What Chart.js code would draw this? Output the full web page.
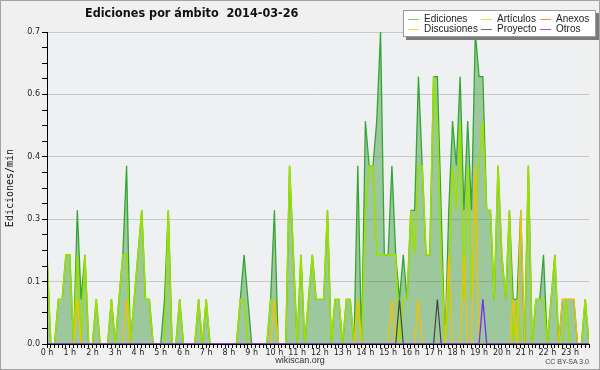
<!DOCTYPE html>
<html>
<head>
<meta charset="utf-8">
<script src="https://cdn.jsdelivr.net/npm/chart.js@4.4.1/dist/chart.umd.min.js"></script>
<style>
    body { margin: 0; background: #f0f0f0; }
    #wrap { position: relative; width: 600px; height: 370px; background: #f0f0f0; overflow: hidden; }
    #chart { position: absolute; left: 0; top: 0; }
    #frame { position: absolute; left: 0; top: 0; width: 600px; height: 370px; box-sizing: border-box; border: 1px solid #a4a4a4; pointer-events: none; }
    #title { position: absolute; left: 85px; top: 5px; font-family: "DejaVu Sans Condensed", "DejaVu Sans"; font-weight: bold; font-size: 12.5px; font-stretch: condensed; color: #111; white-space: pre; }
    #legend { position: absolute; left: 403px; top: 10px; width: 191px; height: 25px; background: #fff; border: 1px solid #9a9a9a; box-shadow: 3px 3px 0 #7a7a7a; font: 10px "Liberation Sans"; color: #222; }
    #legend .item { position: absolute; white-space: nowrap; line-height: 10px; }
    #legend .swatch { position: absolute; top: 5px; width: 11px; height: 0; border-top: 1px solid; }
    #legend .name { position: absolute; left: 16px; top: 0; }
    #site { position: absolute; left: 250px; width: 100px; top: 355px; text-align: center; font: 9px "Liberation Sans"; color: #333; }
    #licence { position: absolute; right: 11px; top: 358px; font: 7px "Liberation Sans"; color: #444; }
</style>
</head>
<body>
<div id="wrap">
    <canvas id="chart" width="600" height="370"></canvas>
    <div id="title">Ediciones por ámbito  2014-03-26</div>
    <div id="legend"></div>
    <div id="site">wikiscan.org</div>
    <div id="licence">CC BY-SA 3.0</div>
    <div id="frame"></div>
</div>
<script>
// Labels of the axes
const hourLabels = ['0 h', '1 h', '2 h', '3 h', '4 h', '5 h', '6 h', '7 h', '8 h', '9 h', '10 h', '11 h',
    '12 h', '13 h', '14 h', '15 h', '16 h', '17 h', '18 h', '19 h', '20 h', '21 h', '22 h', '23 h'];
const yLabels = ['0.0', '0.1', '0.3', '0.4', '0.6', '0.7'];

// Edits per minute, one value per 10 minutes (one row = 2 hours)
const ediciones = [
    0.2, 0, 0, 0.1, 0.1, 0.2, 0.2, 0, 0.3, 0.1, 0.2, 0,
    0, 0.1, 0, 0, 0, 0.1, 0, 0.1, 0.2, 0.4, 0, 0.1,
    0.2, 0.3, 0.1, 0.1, 0, 0, 0, 0.1, 0.3, 0, 0, 0.1,
    0, 0, 0, 0, 0.1, 0, 0.1, 0, 0, 0, 0, 0,
    0, 0, 0, 0.1, 0.2, 0.1, 0, 0, 0, 0, 0, 0.1,
    0.3, 0, 0, 0, 0.4, 0.2, 0, 0.2, 0, 0.1, 0.2, 0.1,
    0.1, 0.1, 0.3, 0, 0.1, 0.1, 0, 0.1, 0.1, 0, 0.4, 0,
    0.5, 0.4, 0.4, 0.5, 0.7, 0.2, 0.2, 0.4, 0.2, 0.1, 0.2, 0.1,
    0.3, 0.3, 0.6, 0.4, 0.2, 0.2, 0.6, 0.6, 0.3, 0, 0.3, 0.5,
    0.4, 0.6, 0.3, 0.5, 0.3, 0.7, 0.6, 0.6, 0.3, 0.3, 0.1, 0.4,
    0.2, 0.1, 0.3, 0.1, 0.1, 0.3, 0, 0.4, 0, 0.1, 0.1, 0.2,
    0, 0.1, 0.2, 0, 0.1, 0.1, 0.1, 0.1, 0, 0, 0.1, 0
];
const articulos = [
    0.2, 0, 0, 0.1, 0.1, 0.2, 0.2, 0, 0.2, 0, 0.2, 0,
    0, 0.1, 0, 0, 0, 0.1, 0, 0.1, 0.2, 0.2, 0, 0.1,
    0.2, 0.3, 0.1, 0.1, 0, 0, 0, 0, 0.3, 0, 0, 0.1,
    0, 0, 0, 0, 0.1, 0, 0.1, 0, 0, 0, 0, 0,
    0, 0, 0, 0.1, 0.1, 0, 0, 0, 0, 0, 0, 0.1,
    0.1, 0, 0, 0, 0.4, 0.2, 0, 0.2, 0, 0.1, 0.2, 0.1,
    0.1, 0.1, 0.3, 0, 0.1, 0.1, 0, 0.1, 0.1, 0, 0.1, 0,
    0.3, 0.4, 0.4, 0.2, 0.2, 0.2, 0.2, 0.2, 0.2, 0, 0.1, 0.1,
    0.3, 0.2, 0.4, 0.4, 0.2, 0.2, 0.6, 0.5, 0.2, 0, 0.1, 0.4,
    0.3, 0.5, 0.1, 0.4, 0.1, 0.3, 0.4, 0.5, 0.3, 0.3, 0.1, 0.4,
    0.2, 0.1, 0.3, 0, 0.1, 0, 0, 0.4, 0, 0.1, 0.1, 0.1,
    0, 0.1, 0.2, 0, 0, 0.1, 0, 0, 0, 0, 0.1, 0
];
const anexos = [
    0, 0, 0, 0, 0, 0, 0, 0, 0, 0, 0, 0,
    0, 0, 0, 0, 0, 0, 0, 0, 0, 0, 0, 0,
    0, 0, 0, 0, 0, 0, 0, 0, 0, 0, 0, 0,
    0, 0, 0, 0, 0, 0, 0, 0, 0, 0, 0, 0,
    0, 0, 0, 0, 0, 0, 0, 0, 0, 0, 0, 0,
    0, 0, 0, 0, 0, 0, 0, 0, 0, 0, 0, 0,
    0, 0, 0, 0, 0, 0, 0, 0, 0, 0, 0, 0,
    0, 0, 0, 0, 0, 0, 0, 0, 0, 0, 0, 0,
    0, 0, 0, 0, 0, 0, 0, 0, 0, 0, 0, 0,
    0, 0, 0, 0, 0, 0, 0, 0, 0, 0, 0, 0,
    0, 0, 0, 0, 0, 0, 0, 0, 0, 0, 0, 0,
    0, 0, 0, 0, 0, 0, 0, 0, 0, 0, 0, 0
];
const discusiones = [
    0, 0, 0, 0, 0, 0, 0, 0, 0.1, 0, 0, 0,
    0, 0, 0, 0, 0, 0, 0, 0, 0, 0.1, 0, 0,
    0, 0, 0, 0, 0, 0, 0, 0, 0, 0, 0, 0,
    0, 0, 0, 0, 0, 0, 0, 0, 0, 0, 0, 0,
    0, 0, 0, 0, 0, 0, 0, 0, 0, 0, 0, 0,
    0.1, 0, 0, 0, 0, 0, 0, 0, 0, 0, 0, 0,
    0, 0, 0, 0, 0, 0, 0, 0, 0, 0, 0.1, 0,
    0, 0, 0, 0, 0, 0, 0, 0.1, 0, 0, 0, 0,
    0, 0, 0.1, 0, 0, 0, 0, 0, 0, 0, 0.2, 0,
    0, 0, 0.2, 0, 0, 0.4, 0, 0, 0, 0, 0, 0,
    0, 0, 0, 0.1, 0, 0.3, 0, 0, 0, 0, 0, 0,
    0, 0, 0, 0, 0.1, 0.1, 0.1, 0.1, 0, 0, 0, 0
];
const proyecto = [
    0, 0, 0, 0, 0, 0, 0, 0, 0, 0, 0, 0,
    0, 0, 0, 0, 0, 0, 0, 0, 0, 0, 0, 0,
    0, 0, 0, 0, 0, 0, 0, 0, 0, 0, 0, 0,
    0, 0, 0, 0, 0, 0, 0, 0, 0, 0, 0, 0,
    0, 0, 0, 0, 0, 0, 0, 0, 0, 0, 0, 0,
    0, 0, 0, 0, 0, 0, 0, 0, 0, 0, 0, 0,
    0, 0, 0, 0, 0, 0, 0, 0, 0, 0, 0, 0,
    0, 0, 0, 0, 0, 0, 0, 0, 0, 0.1, 0, 0,
    0, 0, 0, 0, 0, 0, 0, 0.1, 0, 0, 0, 0,
    0, 0, 0, 0, 0, 0, 0, 0, 0, 0, 0, 0,
    0, 0, 0, 0, 0, 0, 0, 0, 0, 0, 0, 0,
    0, 0, 0, 0, 0, 0, 0, 0, 0, 0, 0, 0
];
const otros = [
    0, 0, 0, 0, 0, 0, 0, 0, 0, 0, 0, 0,
    0, 0, 0, 0, 0, 0, 0, 0, 0, 0, 0, 0,
    0, 0, 0, 0, 0, 0, 0, 0, 0, 0, 0, 0,
    0, 0, 0, 0, 0, 0, 0, 0, 0, 0, 0, 0,
    0, 0, 0, 0, 0, 0, 0, 0, 0, 0, 0, 0,
    0, 0, 0, 0, 0, 0, 0, 0, 0, 0, 0, 0,
    0, 0, 0, 0, 0, 0, 0, 0, 0, 0, 0, 0,
    0, 0, 0, 0, 0, 0, 0, 0, 0, 0, 0, 0,
    0, 0, 0, 0, 0, 0, 0, 0, 0, 0, 0, 0,
    0, 0, 0, 0, 0, 0, 0, 0.1, 0, 0, 0, 0,
    0, 0, 0, 0, 0, 0, 0, 0, 0, 0, 0, 0,
    0, 0, 0, 0, 0, 0, 0, 0, 0, 0, 0, 0
];

// 10 minute slots of the day
const slots = [];
for (let h = 0; h < 24; h++) {
    for (let m = 0; m < 60; m += 10) {
        slots.push(String(h).padStart(2, '0') + ':' + String(m).padStart(2, '0'));
    }
}

const legendItems = [
    { name: 'Ediciones', color: '#6fcf6f', col: 0, row: 0 },
    { name: 'Artículos', color: '#c6ee3c', col: 1, row: 0 },
    { name: 'Anexos', color: '#ff8a4c', col: 2, row: 0 },
    { name: 'Discusiones', color: '#ffd23a', col: 0, row: 1 },
    { name: 'Proyecto', color: '#6a6a6a', col: 1, row: 1 },
    { name: 'Otros', color: '#9a4cff', col: 2, row: 1 }
];
const legendCols = [4, 77, 136];

function buildLegend() {
    const legend = document.getElementById('legend');
    legendItems.forEach(item => {
        const el = document.createElement('div');
        el.className = 'item';
        el.style.left = legendCols[item.col] + 'px';
        el.style.top = (3 + item.row * 10) + 'px';
        el.innerHTML = '<span class="swatch" style="border-color:' + item.color + '"></span><span class="name"></span>';
        el.querySelector('.name').textContent = item.name;
        legend.appendChild(el);
    });
}

const plotBackground = {
    id: 'plotBackground',
    beforeDraw(chart) {
        const { ctx, chartArea: a } = chart;
        ctx.save();
        ctx.fillStyle = '#eff0f1';
        ctx.fillRect(a.left, a.top, a.right - a.left, a.bottom - a.top);
        ctx.restore();
    }
};

function serie(label, data, color, order, width) {
    return {
        label: label,
        data: data,
        borderColor: color,
        borderWidth: width,
        pointRadius: 0,
        tension: 0,
        fill: false,
        order: order,
        clip: { left: 0, top: 3, right: 0, bottom: 0 }
    };
}

function createChart() {
    const edSerie = serie('Ediciones', ediciones, '#34a634', 6, 1.3);
    edSerie.fill = 'origin';
    edSerie.backgroundColor = 'rgba(34, 139, 34, 0.4)';

    new Chart(document.getElementById('chart'), {
        type: 'line',
        data: {
            labels: slots,
            datasets: [
                edSerie,
                serie('Artículos', articulos, '#9be000', 5, 1.6),
                serie('Anexos', anexos, '#ff7f2a', 4, 1.3),
                serie('Discusiones', discusiones, '#f2c200', 3, 1.3),
                serie('Proyecto', proyecto, '#444444', 2, 1.2),
                serie('Otros', otros, '#7a2cf0', 1, 1.3)
            ]
        },
        options: {
            responsive: false,
            animation: false,
            layout: { padding: { top: 32, right: 11, left: 0, bottom: 0 } },
            plugins: {
                legend: { display: false },
                title: { display: false },
                tooltip: { enabled: false }
            },
            scales: {
                x: {
                    type: 'category',
                    offset: false,
                    grid: { drawOnChartArea: false, drawTicks: true, tickLength: 4, tickColor: '#000', offset: false },
                    border: { color: '#000', width: 1, z: 1 },
                    ticks: {
                        autoSkip: false,
                        maxRotation: 0,
                        minRotation: 0,
                        padding: 0,
                        color: '#222',
                        font: { family: 'DejaVu Sans', size: 8 },
                        callback: (value, index) => index % 6 === 0 ? hourLabels[index / 6] : ''
                    },
                    afterFit: scale => { scale.height = 26; }
                },
                y: {
                    min: 0,
                    max: 0.7,
                    grid: {
                        color: ctx => ctx.index % 4 === 0 ? '#c9c9c9' : 'rgba(0,0,0,0)',
                        tickColor: '#000',
                        tickLength: 5
                    },
                    border: { color: '#000', width: 1, z: 1 },
                    ticks: {
                        stepSize: 0.035,
                        autoSkip: false,
                        padding: 2,
                        color: '#222',
                        font: { family: 'DejaVu Sans', size: 8 },
                        callback: (value, index) => index % 4 === 0 ? yLabels[index / 4] : ''
                    },
                    title: {
                        display: true,
                        text: 'Ediciones/min',
                        color: '#111',
                        font: { family: 'DejaVu Sans Mono', size: 10 },
                        padding: { top: 4, bottom: 0 }
                    },
                    afterFit: scale => { scale.width = 47; }
                }
            }
        },
        plugins: [plotBackground]
    });
}

buildLegend();
createChart();
</script>
</body>
</html>
